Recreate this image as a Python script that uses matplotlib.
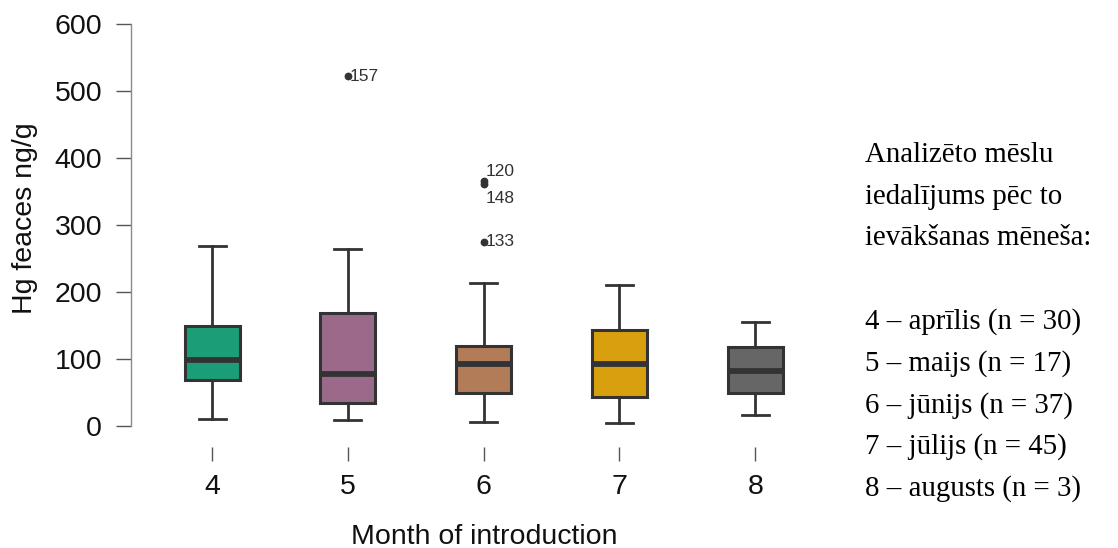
import matplotlib
matplotlib.use("Agg")
import matplotlib.pyplot as plt

# Hg concentration in faeces by month of introduction (box summary statistics)
months = [4, 5, 6, 7, 8]
whisker_low = [10, 9, 6, 4, 17]
q1 = [69, 34, 49, 44, 49]
medians = [98, 77, 92, 92, 82]
q3 = [149, 169, 119, 144, 118]
whisker_high = [268, 264, 213, 210, 155]
outlier_values = [[], [522], [366, 361, 275], [], []]
outlier_ids = [[], ["157"], ["120", "148", "133"], [], []]
box_colors = ["#1b9e77", "#9b6a8b", "#b37c59", "#d8a00e", "#666666"]

y_ticks = [0, 100, 200, 300, 400, 500, 600]
x_label = "Month of introduction"
y_label = "Hg feaces ng/g"

note_lines = [
    "Analizēto mēslu",
    "iedalījums pēc to",
    "ievākšanas mēneša:",
    "",
    "4 – aprīlis (n = 30)",
    "5 – maijs (n = 17)",
    "6 – jūnijs (n = 37)",
    "7 – jūlijs (n = 45)",
    "8 – augusts (n = 3)",
]

W, H = 1118, 548
fig = plt.figure(figsize=(W / 100, H / 100), dpi=100)
fig.patch.set_facecolor("white")

# axes rectangle in pixels
left_px, right_px, top_px, bottom_px = 131, 800, 20, 446.7
ax = fig.add_axes([left_px / W, 1 - bottom_px / H,
                   (right_px - left_px) / W, (bottom_px - top_px) / H])

px_per_unit = 402 / 600.0
y_bottom = -(bottom_px - 426) / px_per_unit
ax.set_ylim(y_bottom, y_bottom + (bottom_px - top_px) / px_per_unit)
x_step = 135.8
ax.set_xlim(4 - (212 - left_px) / x_step, 8 + (right_px - 755.3) / x_step)

dark = "#333333"
stats = []
for i, m in enumerate(months):
    stats.append(dict(med=medians[i], q1=q1[i], q3=q3[i],
                      whislo=whisker_low[i], whishi=whisker_high[i],
                      fliers=outlier_values[i]))

bp = ax.bxp(stats, positions=months, widths=55 / x_step, capwidths=27 / x_step,
            patch_artist=True, manage_ticks=False,
            boxprops=dict(edgecolor=dark, linewidth=2.2),
            whiskerprops=dict(color=dark, linewidth=2.0),
            capprops=dict(color=dark, linewidth=2.0),
            medianprops=dict(color=dark, linewidth=4.2, solid_capstyle="butt"),
            flierprops=dict(marker="o", markersize=4.6, markerfacecolor=dark,
                            markeredgecolor=dark))
for patch, c in zip(bp["boxes"], box_colors):
    patch.set_facecolor(c)

# outlier case labels
label_offsets = {"157": (1.5, 0), "120": (1.5, 6.5), "148": (1.5, -10.5), "133": (1.5, 0)}
for i, m in enumerate(months):
    for v, lab in zip(outlier_values[i], outlier_ids[i]):
        dx, dy = label_offsets.get(lab, (1.5, 0))
        ax.annotate(lab, (m, v), xytext=(dx, dy), textcoords="offset points",
                    ha="left", va="center", fontsize=12.5, color=dark,
                    family="Liberation Sans")

# axes styling
for s in ["top", "right", "bottom"]:
    ax.spines[s].set_visible(False)
ax.spines["left"].set_bounds(0, 600)
ax.spines["left"].set_color("#8a8a8a")
ax.spines["left"].set_linewidth(1.0)

ax.set_yticks(y_ticks)
ax.set_xticks(months)
ax.set_xticklabels([str(m) for m in months])
ax.tick_params(axis="y", length=10.8, width=1.0, color="#555555", pad=10,
               labelsize=20.5, labelcolor="#111111")
ax.tick_params(axis="x", length=10, width=1.0, color="#555555", pad=10,
               labelsize=20.5, labelcolor="#111111")
for lab in ax.get_xticklabels() + ax.get_yticklabels():
    lab.set_family("Liberation Sans")

fig.text(484 / W, 1 - 537 / H, x_label, ha="center", va="center",
         fontsize=20.5, family="Liberation Sans", color="#111111")
fig.text(25 / W, 1 - 218 / H, y_label, ha="center", va="center", rotation=90,
         fontsize=20.5, family="Liberation Sans", color="#111111")

# side note
y0, step = 155, 41.7
for k, line in enumerate(note_lines):
    if line:
        fig.text(865 / W, 1 - (y0 + k * step) / H, line, ha="left", va="center",
                 fontsize=20.8, family="Liberation Serif", color="black")

fig.savefig("out.png", dpi=100)
